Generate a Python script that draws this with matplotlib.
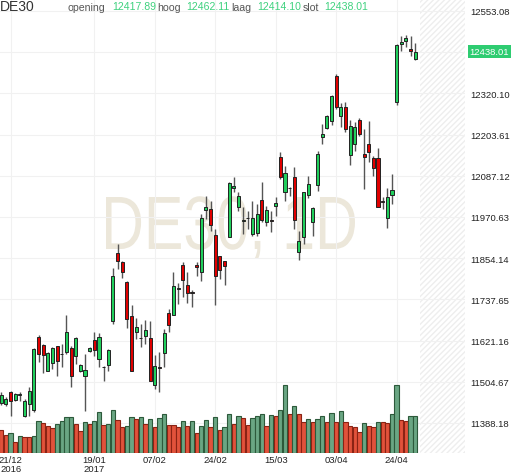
import numpy as np
import matplotlib
matplotlib.use("Agg")
import matplotlib.pyplot as plt
from matplotlib.textpath import TextPath
from matplotlib.patches import PathPatch
from matplotlib.font_manager import FontProperties
from matplotlib.transforms import Affine2D, offset_copy

plt.rcParams['font.family'] = ['Liberation Sans', 'DejaVu Sans']

# DE30 daily candles, 21/12/2016 - 28/04/2017
opening = [11444, 11442, 11475, 11454, 11467, 11409, 11442, 11425, 11630, 11608,
           11536, 11558, 11605, 11582, 11588, 11599, 11577, 11536, 11520, 11591,
           11622, 11569, 11546, 11553, 11677, 11868, 11842, 11788, 11691, 11646,
           11628, 11635, 11627, 11495, 11547, 11585, 11698, 11694, 11766, 11835,
           11779, 11758, 11834, 11816, 11990, 11993, 11920, 11859, 11845, 11915,
           12053, 11998, 11960, 11967, 11922, 11924, 12018, 11955, 11962, 12001,
           12139, 12042, 12053, 12083, 11871, 11913, 12033, 11957, 12062, 12198,
           12221, 12243, 12370, 12255, 12281, 12147, 12177, 12245, 12149, 12177,
           12136, 12136, 12016, 11969, 12033, 12297, 12459, 12467, 12446, 12417.89]
high = [11476, 11461, 11479, 11473, 11476, 11456, 11490, 11600, 11637, 11611,
        11589, 11602, 11607, 11611, 11693, 11607, 11630, 11556, 11583, 11602,
        11644, 11642, 11550, 11598, 11825, 11894, 11847, 11790, 11722, 11684,
        11668, 11680, 11677, 11580, 11588, 11654, 11710, 11814, 11785, 11844,
        11814, 11765, 11844, 11979, 12031, 12017, 11937, 11861, 11847, 12070,
        12083, 12040, 11998, 11988, 12017, 12007, 12069, 12002, 11988, 12026,
        12153, 12115, 12056, 12111, 11932, 12042, 12086, 11998, 12158, 12234,
        12259, 12316, 12375, 12293, 12295, 12245, 12239, 12250, 12219, 12243,
        12144, 12165, 12026, 12052, 12092, 12460, 12483, 12486, 12481, 12462.11]
low = [11439, 11437, 11409, 11450, 11450, 11404, 11409, 11419, 11560, 11529,
       11534, 11541, 11520, 11545, 11583, 11489, 11555, 11533, 11423, 11588,
       11578, 11545, 11508, 11536, 11668, 11823, 11797, 11656, 11534, 11625,
       11602, 11611, 11507, 11484, 11476, 11545, 11644, 11692, 11725, 11743,
       11727, 11715, 11804, 11790, 11965, 11932, 11722, 11795, 11779, 11913,
       12040, 11988, 11922, 11937, 11918, 11918, 11955, 11946, 11927, 11974,
       12078, 12017, 12031, 11937, 11850, 11894, 12023, 11918, 12045, 12177,
       12219, 12231, 12276, 12224, 12212, 12118, 12158, 12200, 12050, 12125,
       12087, 11998, 11993, 11938, 12007, 12287, 12441, 12450, 12427, 12414.10]
close = [11468, 11455, 11450, 11470, 11471, 11449, 11479, 11597, 11583, 11581,
         11586, 11599, 11562, 11584, 11646, 11520, 11627, 11553, 11539, 11599,
         11595, 11630, 11545, 11594, 11804, 11847, 11814, 11682, 11534, 11658,
         11627, 11651, 11508, 11550, 11542, 11641, 11666, 11774, 11771, 11793,
         11755, 11756, 11829, 11967, 11998, 11948, 11803, 11821, 11833, 12066,
         12059, 12029, 11961, 11967, 11967, 11978, 11962, 11990, 11958, 12009,
         12084, 12094, 12052, 11962, 11903, 12040, 12064, 11995, 12149, 12204,
         12255, 12313, 12281, 12282, 12219, 12229, 12224, 12205, 12139, 12153,
         12108, 11998, 12013, 12028, 12047, 12457, 12466, 12476, 12441, 12438.01]
volume = [233, 180, 200, 107, 167, 157, 157, 173, 323, 300, 273, 250, 290, 317, 357,
          357, 290, 223, 307, 290, 323, 407, 283, 290, 433, 330, 257, 273, 357, 340,
          357, 290, 340, 257, 350, 390, 280, 280, 257, 317, 273, 323, 200, 273, 333,
          257, 357, 233, 257, 390, 290, 367, 350, 280, 350, 373, 390, 273, 380, 367,
          433, 683, 390, 473, 390, 307, 340, 313, 340, 367, 313, 400, 313, 417, 307,
          273, 263, 207, 297, 273, 263, 313, 307, 300, 390, 680, 333, 317, 367, 373]
# G = up volume, R = down volume
vol_dir = list("RRGRGRRGGR" "RRGGGGRRGR" "GGRGGRRGGR" "GRGRGGRRRG" "RGRGGRGRGG"
               "RGRRGGGRGR" "GGRGRRGRGG" "RGRGRRRRGR" "RGRRGGRRGG")

tick_idx = [2, 20, 33, 46, 59, 72, 85]
tick_lbl = ["21/12\n2016", "19/01\n2017", "07/02", "24/02", "15/03", "03/04", "24/04"]
price_ticks = [11388.18, 11504.67, 11621.16, 11737.65, 11854.14, 11970.63,
               12087.12, 12203.61, 12320.10, 12436.59, 12553.08]

W, H = 512, 477
fig = plt.figure(figsize=(W / 100, H / 100), dpi=100)
ax = fig.add_axes([0, 23 / H, 465 / W, 454 / H])

x = np.arange(len(close))
o = np.array(opening); c = np.array(close)

# watermark
fp = FontProperties(family="Liberation Sans")
tp = TextPath((0, 0), "DE30, 1D", size=100, prop=fp)
cap = TextPath((0, 0), "D", size=100, prop=fp).get_extents()
bb = tp.get_extents()
tr = (Affine2D().translate(-bb.x0, 0)
      .scale(249 / bb.width / W, 52 / cap.height / H)
      .translate(106 / W, (H - 250) / H) + fig.transFigure)
ax.add_patch(PathPatch(tp, transform=tr, facecolor="#ece7da", edgecolor="none", zorder=0.2))

# future area
ax.axvspan(90.0, 99.7, facecolor="white", edgecolor="#eeeeee", hatch="//////", lw=0, zorder=0.1)

# volume, scaled to the lower part of the panel
vfill = ["#6aa683" if d == "G" else "#e1523b" for d in vol_dir]
vedge = ["#2d5a3b" if d == "G" else "#8a2314" for d in vol_dir]
ax.bar(x, np.array(volume) / 4540, width=0.92, color=vfill, edgecolor=vedge,
       linewidth=0.8, zorder=1, transform=ax.get_xaxis_transform())

# candles
up = c >= o
ax.vlines(x, low, high, color="#555555", lw=1.0, zorder=2)
ax.bar(x, np.abs(c - o), bottom=np.minimum(o, c), width=0.66,
       color=np.where(up, "#20cf5c", "#e00000"), edgecolor="#222222",
       linewidth=0.7, zorder=3)

ax.set_xlim(-0.28, 99.7)
ax.set_ylim(11303, 12587)
for s in ax.spines.values():
    s.set_visible(False)

ax.grid(True, color="#f1f1f1", lw=0.8, zorder=0)
ax.set_axisbelow(True)
ax.yaxis.tick_right()
ax.set_yticks(price_ticks)
ax.set_yticklabels(["%.2f" % p if i != 9 else "" for i, p in enumerate(price_ticks)])
ax.tick_params(axis="y", length=0, pad=3.6, labelsize=6.8, labelcolor="#222222")
ax.set_xticks(tick_idx)
ax.set_xticklabels(tick_lbl, linespacing=0.95)
ax.tick_params(axis="x", length=0, pad=1.5, labelsize=6.8, labelcolor="#222222")

# last price box
trans = offset_copy(ax.get_yaxis_transform(), fig=fig, x=4.6, y=0, units="dots")
ax.text(1.0, close[-1], "%.2f" % close[-1], transform=trans, ha="left", va="center",
        fontsize=6.8, color="white", clip_on=False,
        bbox=dict(boxstyle="square,pad=0.2", fc="#2ecc71", ec="none"))

# header
green = "#3fd17e"
fig.text(0 / W, 1 - 11 / H, "DE30", fontsize=10, color="#333333", va="baseline")
hdr = [("opening", 68, "#555555", 11), ("%.2f" % opening[-1], 112, green, 9.5),
       ("hoog", 157, "#555555", 11), ("%.2f" % high[-1], 186, green, 9.5),
       ("laag", 231, "#555555", 11), ("%.2f" % low[-1], 257, green, 9.5),
       ("slot", 303, "#555555", 11), ("%.2f" % close[-1], 324, green, 9.5)]
for s, px, col, base in hdr:
    fig.text(px / W, 1 - base / H, s, fontsize=7.6, color=col, va="baseline")

fig.savefig("out.png", dpi=100, facecolor="white")
